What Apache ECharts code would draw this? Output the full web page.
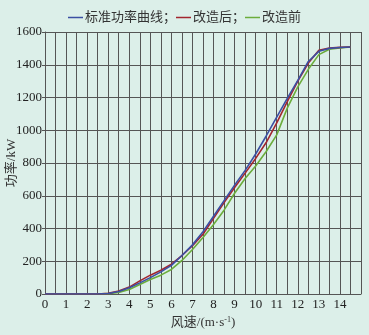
<!DOCTYPE html>
<html>
<head>
<meta charset="utf-8">
<script src="https://cdn.jsdelivr.net/npm/echarts@6/dist/echarts.min.js"></script>
<style>
  html, body { margin: 0; padding: 0; background: #dcefe9; }
  #chart { width: 369px; height: 335px; }
</style>
</head>
<body>
<div id="chart"></div>
<script>
// wind speed, m/s
const windSpeed = [0, 0.5, 1, 1.5, 2, 2.5, 3, 3.5, 4, 4.5, 5, 5.5, 6, 6.5, 7, 7.5,
  8, 8.5, 9, 9.5, 10, 10.5, 11, 11.5, 12, 12.5, 13, 13.5, 14, 14.5];

// power, kW
const standardPower = [0, 0, 0, 0, 0, 0, 3, 15, 38, 68, 100, 135, 175, 235, 300, 380,
  475, 570, 665, 755, 855, 965, 1080, 1195, 1305, 1420, 1482, 1500, 1505, 1508];
const afterPower = [0, 0, 0, 0, 0, 0, 4, 18, 42, 80, 115, 145, 182, 235, 295, 365,
  462, 558, 650, 738, 828, 925, 1045, 1175, 1300, 1410, 1488, 1502, 1506, 1508];
const beforePower = [0, 0, 0, 0, 0, 0, 2, 10, 28, 58, 88, 115, 150, 205, 272, 345,
  425, 512, 615, 705, 782, 870, 972, 1135, 1265, 1372, 1462, 1495, 1503, 1508];

const seriesNames = ["标准功率曲线", "改造后", "改造前"];
const seriesColors = ["#3b4fa3", "#a3262f", "#6cad3c"];
const seriesData = [standardPower, afterPower, beforePower];

const font = "'Liberation Serif', 'Noto Sans CJK SC', serif";

const chart = echarts.init(document.getElementById("chart"));

const option = {
  backgroundColor: "#dcefe9",
  textStyle: { fontFamily: font },
  legend: {
    top: 6,
    left: "center",
    itemGap: 0,
    itemWidth: 15,
    itemHeight: 1.5,
    icon: "rect",
    textStyle: { fontSize: 13, color: "#333", fontFamily: font, padding: [0, 0, 0, -3] },
    formatter: (name) => (name === "改造前" ? name : name + "；"),
    data: seriesNames,
  },
  grid: { left: 45, right: 8, top: 32, bottom: 41, outerBoundsMode: "none" },
  xAxis: {
    type: "value",
    min: 0,
    max: 15,
    interval: 0.5,
    name: "风速/(m·s{sup|-1})",
    nameLocation: "middle",
    nameGap: 22,
    nameMoveOverlap: false,
    nameTextStyle: {
      fontSize: 13,
      color: "#333",
      fontFamily: font,
      rich: { sup: { fontSize: 8, verticalAlign: "top", padding: [0, 0, 6, 0], color: "#333" } },
    },
    axisLine: { show: true, lineStyle: { color: "#555", width: 1 } },
    axisTick: { show: false },
    axisLabel: {
      color: "#222",
      fontSize: 13,
      margin: 4,
      fontFamily: font,
      formatter: (v) => (Number.isInteger(v) && v < 15 ? String(v) : ""),
    },
    splitLine: { show: true, lineStyle: { color: "#555", width: 1 } },
  },
  yAxis: {
    type: "value",
    min: 0,
    max: 1600,
    interval: 200,
    name: "功率/kW",
    nameLocation: "middle",
    nameGap: 27,
    nameMoveOverlap: false,
    nameTextStyle: { fontSize: 13, color: "#333", fontFamily: font },
    axisLine: { show: true, lineStyle: { color: "#555", width: 1 } },
    axisTick: { show: true, length: 3, lineStyle: { color: "#555" } },
    axisLabel: {
      color: "#222",
      fontSize: 13,
      margin: 3,
      fontFamily: font,
      formatter: (v) => String(v),
    },
    splitLine: { show: true, lineStyle: { color: "#555", width: 1 } },
  },
  series: seriesNames.map((name, i) => ({
    name,
    type: "line",
    data: windSpeed.map((x, j) => [x, seriesData[i][j]]),
    showSymbol: false,
    color: seriesColors[i],
    lineStyle: { width: 1.6, color: seriesColors[i] },
    z: 3 - i,
  })),
};

chart.setOption(option);
</script>
</body>
</html>
